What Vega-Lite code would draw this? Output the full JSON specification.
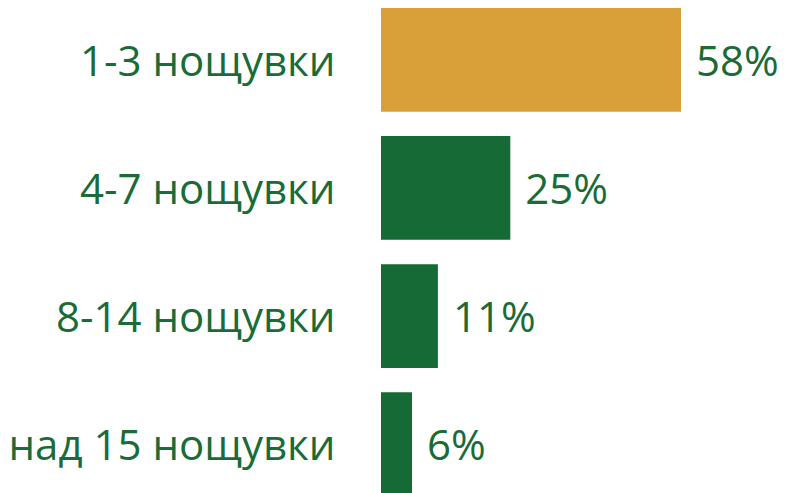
{
  "$schema": "https://vega.github.io/schema/vega-lite/v6.json",
  "autosize": "none",
  "width": 405,
  "height": 488,
  "padding": {"left": 381, "top": 8, "right": 0, "bottom": 0},
  "background": "white",
  "config": {"view": {"stroke": null}},
  "data": {
    "values": [
      {"cat": "1-3 нощувки", "value": 58, "label": "58%", "hl": "yes"},
      {"cat": "4-7 нощувки", "value": 25, "label": "25%", "hl": "no"},
      {"cat": "8-14 нощувки", "value": 11, "label": "11%", "hl": "no"},
      {"cat": "над 15 нощувки", "value": 6, "label": "6%", "hl": "no"}
    ]
  },
  "encoding": {
    "y": {
      "field": "cat",
      "type": "nominal",
      "sort": null,
      "scale": {"paddingInner": 0.19, "paddingOuter": 0},
      "axis": {
        "title": null,
        "domain": false,
        "ticks": false,
        "labelFont": "Open Sans",
        "labelFontSize": 42,
        "labelColor": "#1A6B38",
        "labelPadding": 46,
        "labelOffset": 3,
        "labelLimit": 400
      }
    },
    "x": {
      "field": "value",
      "type": "quantitative",
      "scale": {"domain": [0, 78.3], "nice": false},
      "axis": null
    }
  },
  "layer": [
    {
      "mark": {"type": "bar"},
      "encoding": {
        "color": {
          "field": "hl",
          "type": "nominal",
          "scale": {"domain": ["yes", "no"], "range": ["#D9A03A", "#156A36"]},
          "legend": null
        }
      }
    },
    {
      "mark": {
        "type": "text",
        "align": "left",
        "baseline": "middle",
        "dx": 15,
        "dy": 3,
        "font": "Open Sans",
        "fontSize": 42,
        "color": "#1A6B38"
      },
      "encoding": {"text": {"field": "label"}}
    }
  ]
}
